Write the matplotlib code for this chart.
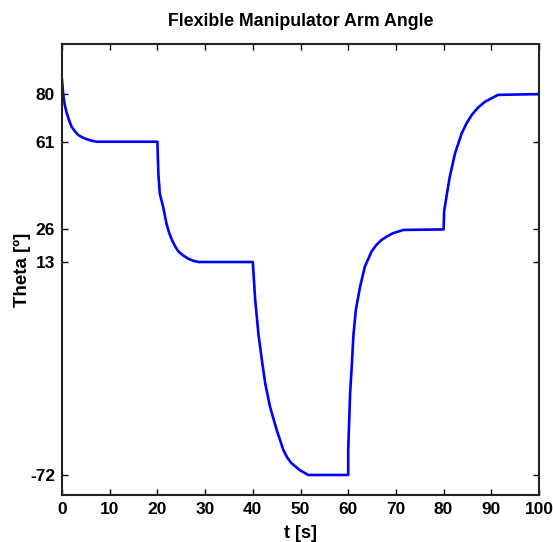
import matplotlib.pyplot as plt

# datos
t = [0, 0.3, 0.6, 1.0, 1.5, 2.0, 2.7, 3.4, 4.3, 5.2, 6.2, 7.3, 20.0,
     20.0, 20.2, 20.5, 21.2, 21.9, 22.4, 23.0, 23.7, 24.4, 25.4, 26.5, 27.5, 28.6, 40.0,
     40.0, 40.5, 41.2, 41.9, 42.6, 43.6, 45.0, 46.4, 47.2, 48.1, 49.8, 51.6, 60.0,
     60.0, 60.4, 60.7, 61.1, 61.6, 62.5, 63.5, 64.9, 65.9, 67.0, 68.2, 69.4, 71.6, 80.0,
     80.1, 80.6, 81.3, 82.4, 83.8, 84.8, 85.9, 87.2, 88.7, 91.4, 100.0]
theta = [85.7, 79.0, 75.5, 72.4, 69.5, 67.0, 65.2, 63.7, 62.7, 62.0, 61.4, 61.0, 61.0,
         61.0, 48.3, 40.3, 35.0, 28.4, 25.0, 22.0, 19.3, 17.2, 15.6, 14.3, 13.5, 13.0, 13.0,
         13.0, -2.1, -16.1, -26.1, -35.4, -44.7, -54.0, -62.0, -65.0, -67.3, -70.0, -72.0, -72.0,
         -62.0, -39.4, -30.0, -16.1, -6.1, 3.2, 11.2, 17.2, 19.8, 21.8, 23.3, 24.5, 25.8, 26.0,
         33.1, 39.1, 47.1, 56.4, 64.4, 68.3, 71.7, 74.6, 77.0, 79.7, 80.0]

xticks = [0, 10, 20, 30, 40, 50, 60, 70, 80, 90, 100]
yticks = [-72, 13, 26, 61, 80]

plt.rcParams['font.family'] = ['Liberation Sans', 'DejaVu Sans']
plt.rcParams['font.weight'] = 'bold'
plt.rcParams['axes.unicode_minus'] = False

fig = plt.figure(figsize=(5.53, 5.42), dpi=100)
ax = fig.add_axes([0.1121, 0.0867, 0.8626, 0.8321])
ax.plot(t, theta, color='#0000ff', linewidth=1.9)

ax.set_xlim(0, 100)
ax.set_ylim(-80, 100)
ax.set_xticks(xticks)
ax.set_yticks(yticks)
ax.tick_params(direction='in', top=True, right=True, labelsize=12.5, length=4, width=1, pad=5)
for s in ax.spines.values():
    s.set_linewidth(1.5)
    s.set_color('#222222')

ax.set_xlabel('t [s]', fontsize=13, fontweight='bold', labelpad=6)
ax.set_ylabel('Theta [º]', fontsize=13.5, fontweight='bold', labelpad=-1)
ax.set_title('Flexible Manipulator Arm Angle', fontsize=12.8, fontweight='bold', pad=13)

plt.savefig('out.png', dpi=100)
